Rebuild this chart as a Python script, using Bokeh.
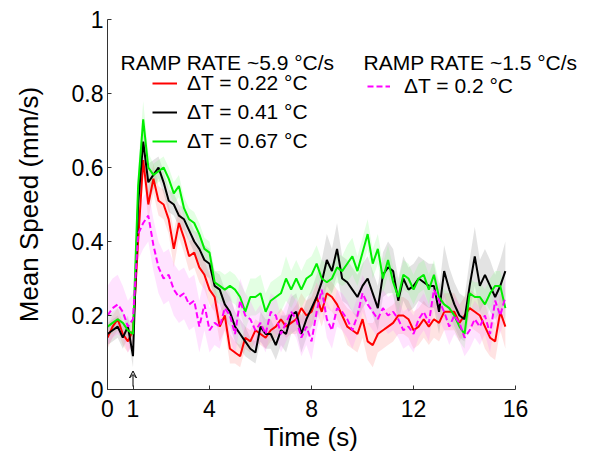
import numpy as np
from bokeh.plotting import figure
from bokeh.models import Legend, LegendItem, Label, Arrow, VeeHead, FixedTicker, Range1d, Title
from bokeh.embed import file_html
from bokeh.resources import INLINE

# ---------------- data ----------------
time_s = np.round(np.arange(79) * 0.2, 1)  # sampling grid, 0 .. 15.6 s
stim_onset = 1.0

x_ticks = [0, 1, 4, 8, 12, 16]
y_ticks = [0, 0.2, 0.4, 0.6, 0.8, 1.0]
y_tick_labels = {0: "0", 0.2: "0.2", 0.4: "0.4", 0.6: "0.6", 0.8: "0.8", 1.0: "1"}

speed_dt022 = [
    0.14, 0.17, 0.19, 0.15, 0.13, 0.16, 0.40, 0.62, 0.50, 0.57,
    0.51, 0.50, 0.46, 0.38, 0.45, 0.41, 0.36, 0.37, 0.33, 0.31,
    0.27, 0.25, 0.17, 0.20, 0.11, 0.10, 0.09, 0.14, 0.13, 0.16,
    0.15, 0.14, 0.16, 0.17, 0.19, 0.17, 0.18, 0.19, 0.22, 0.20,
    0.21, 0.25, 0.21, 0.26, 0.25, 0.23, 0.20, 0.17, 0.16, 0.15,
    0.19, 0.13, 0.12, 0.15, 0.16, 0.17, 0.18, 0.20, 0.20, 0.19,
    0.16, 0.17, 0.19, 0.17, 0.19, 0.18, 0.21, 0.21, 0.21, 0.18,
    0.20, 0.22, 0.21, 0.20, 0.17, 0.14, 0.13, 0.21, 0.17]
sem_dt022 = [
    0.03, 0.03, 0.03, 0.03, 0.03, 0.03, 0.04, 0.04, 0.04, 0.04,
    0.04, 0.04, 0.04, 0.05, 0.04, 0.04, 0.04, 0.04, 0.04, 0.04,
    0.04, 0.04, 0.04, 0.04, 0.04, 0.03, 0.03, 0.03, 0.03, 0.03,
    0.03, 0.03, 0.03, 0.03, 0.03, 0.03, 0.03, 0.04, 0.04, 0.04,
    0.04, 0.04, 0.04, 0.04, 0.04, 0.04, 0.04, 0.05, 0.05, 0.05,
    0.05, 0.05, 0.06, 0.05, 0.05, 0.05, 0.05, 0.05, 0.05, 0.05,
    0.05, 0.05, 0.05, 0.05, 0.05, 0.05, 0.05, 0.05, 0.05, 0.05,
    0.05, 0.05, 0.05, 0.05, 0.06, 0.05, 0.05, 0.05, 0.06]

speed_dt041 = [
    0.15, 0.16, 0.17, 0.14, 0.17, 0.09, 0.50, 0.67, 0.56, 0.58,
    0.60, 0.56, 0.51, 0.50, 0.47, 0.46, 0.43, 0.40, 0.38, 0.35,
    0.34, 0.28, 0.27, 0.23, 0.21, 0.17, 0.15, 0.13, 0.11, 0.10,
    0.17, 0.15, 0.15, 0.12, 0.16, 0.15, 0.20, 0.21, 0.15, 0.19,
    0.22, 0.25, 0.29, 0.35, 0.32, 0.38, 0.30, 0.29, 0.27, 0.25,
    0.28, 0.30, 0.26, 0.22, 0.31, 0.33, 0.32, 0.24, 0.30, 0.27,
    0.28, 0.30, 0.29, 0.28, 0.28, 0.21, 0.32, 0.27, 0.23, 0.20,
    0.19, 0.28, 0.36, 0.28, 0.31, 0.28, 0.25, 0.28, 0.32]
sem_dt041 = [
    0.03, 0.03, 0.03, 0.03, 0.03, 0.03, 0.05, 0.06, 0.05, 0.04,
    0.03, 0.03, 0.03, 0.03, 0.03, 0.03, 0.03, 0.03, 0.04, 0.04,
    0.04, 0.04, 0.04, 0.04, 0.04, 0.04, 0.04, 0.04, 0.03, 0.03,
    0.04, 0.04, 0.04, 0.04, 0.04, 0.05, 0.05, 0.05, 0.05, 0.05,
    0.05, 0.06, 0.06, 0.07, 0.06, 0.07, 0.06, 0.06, 0.06, 0.06,
    0.06, 0.06, 0.06, 0.06, 0.06, 0.07, 0.06, 0.06, 0.06, 0.06,
    0.06, 0.06, 0.06, 0.06, 0.06, 0.06, 0.07, 0.06, 0.06, 0.06,
    0.06, 0.07, 0.08, 0.07, 0.07, 0.07, 0.06, 0.07, 0.08]

speed_dt067 = [
    0.17, 0.18, 0.19, 0.18, 0.16, 0.15, 0.55, 0.73, 0.60, 0.58,
    0.59, 0.60, 0.57, 0.53, 0.55, 0.49, 0.46, 0.45, 0.42, 0.38,
    0.37, 0.29, 0.28, 0.27, 0.28, 0.27, 0.25, 0.21, 0.25, 0.25,
    0.26, 0.21, 0.24, 0.25, 0.26, 0.30, 0.27, 0.30, 0.27, 0.30,
    0.31, 0.34, 0.30, 0.29, 0.30, 0.33, 0.32, 0.34, 0.36, 0.32,
    0.37, 0.42, 0.34, 0.38, 0.30, 0.35, 0.29, 0.25, 0.31, 0.30,
    0.27, 0.30, 0.31, 0.27, 0.31, 0.25, 0.23, 0.22, 0.20, 0.17,
    0.15, 0.26, 0.25, 0.25, 0.23, 0.26, 0.28, 0.28, 0.22]
sem_dt067 = [
    0.03, 0.03, 0.03, 0.03, 0.03, 0.03, 0.05, 0.05, 0.04, 0.03,
    0.03, 0.03, 0.03, 0.03, 0.03, 0.03, 0.03, 0.03, 0.03, 0.03,
    0.03, 0.03, 0.04, 0.04, 0.04, 0.04, 0.04, 0.05, 0.05, 0.05,
    0.05, 0.05, 0.05, 0.05, 0.05, 0.06, 0.05, 0.05, 0.05, 0.05,
    0.05, 0.05, 0.05, 0.05, 0.04, 0.04, 0.04, 0.05, 0.05, 0.04,
    0.04, 0.04, 0.04, 0.04, 0.04, 0.04, 0.04, 0.04, 0.04, 0.04,
    0.04, 0.04, 0.04, 0.04, 0.04, 0.04, 0.04, 0.04, 0.04, 0.04,
    0.04, 0.04, 0.04, 0.04, 0.04, 0.04, 0.04, 0.04, 0.04]

speed_slow020 = [
    0.20, 0.22, 0.23, 0.21, 0.17, 0.19, 0.42, 0.45, 0.47, 0.39,
    0.33, 0.30, 0.31, 0.27, 0.25, 0.26, 0.23, 0.24, 0.17, 0.23,
    0.16, 0.18, 0.17, 0.22, 0.20, 0.15, 0.24, 0.20, 0.19, 0.16,
    0.18, 0.15, 0.21, 0.20, 0.15, 0.18, 0.21, 0.19, 0.14, 0.17,
    0.13, 0.21, 0.27, 0.19, 0.16, 0.22, 0.21, 0.19, 0.16, 0.20,
    0.26, 0.23, 0.21, 0.19, 0.22, 0.20, 0.21, 0.19, 0.16, 0.17,
    0.15, 0.19, 0.21, 0.18, 0.27, 0.24, 0.21, 0.17, 0.20, 0.18,
    0.14, 0.16, 0.19, 0.17, 0.20, 0.15, 0.24, 0.20, 0.25]
sem_slow020 = [
    0.08, 0.08, 0.08, 0.07, 0.07, 0.07, 0.07, 0.07, 0.07, 0.07,
    0.07, 0.07, 0.07, 0.07, 0.07, 0.07, 0.07, 0.07, 0.07, 0.07,
    0.06, 0.06, 0.06, 0.06, 0.06, 0.06, 0.06, 0.06, 0.05, 0.05,
    0.05, 0.05, 0.05, 0.05, 0.05, 0.05, 0.05, 0.05, 0.05, 0.05,
    0.05, 0.05, 0.05, 0.05, 0.05, 0.05, 0.05, 0.05, 0.05, 0.05,
    0.05, 0.05, 0.05, 0.05, 0.05, 0.05, 0.05, 0.05, 0.05, 0.05,
    0.05, 0.05, 0.05, 0.05, 0.05, 0.05, 0.05, 0.05, 0.05, 0.05,
    0.05, 0.05, 0.05, 0.05, 0.05, 0.05, 0.05, 0.05, 0.05]

series = [
    ("ΔT = 0.22 °C", speed_dt022, sem_dt022, "#ff0000", "#ff8080", "solid"),
    ("ΔT = 0.41 °C", speed_dt041, sem_dt041, "#000000", "#808080", "solid"),
    ("ΔT = 0.67 °C", speed_dt067, sem_dt067, "#00ee00", "#80ff80", "solid"),
    ("ΔT = 0.2 °C", speed_slow020, sem_slow020, "#ff00ff", "#ff80ff", "6 3"),
]

FONT = "Liberation Sans"

# ---------------- figure ----------------
# frame spans to the right edge so legend texts are not clipped; the x axis stops at 16
p = figure(width=600, height=460, output_backend="svg", toolbar_location=None,
           x_range=Range1d(0, 19.33), y_range=Range1d(0, 1),
           min_border_left=107, min_border_right=0, min_border_top=19, min_border_bottom=71)
p.outline_line_color = None
p.grid.visible = False
p.background_fill_color = "white"

for ax in (p.xaxis[0], p.yaxis[0]):
    ax.major_tick_in = 4
    ax.major_tick_out = 0
    ax.minor_tick_in = 0
    ax.minor_tick_out = 0
    ax.axis_line_color = "#333333"
    ax.major_tick_line_color = "#333333"
    ax.major_label_text_font = FONT
    ax.major_label_text_font_size = "23px"
    ax.major_label_text_color = "black"
    ax.axis_label_text_font = FONT
    ax.axis_label_text_font_size = "26px"
    ax.axis_label_text_font_style = "normal"
    ax.axis_label_text_color = "black"

p.xaxis.bounds = (0, 16)
p.xaxis.ticker = FixedTicker(ticks=x_ticks)
p.yaxis.ticker = FixedTicker(ticks=y_ticks)
p.yaxis.major_label_overrides = y_tick_labels
p.yaxis.axis_label = "Mean Speed (mm/s)"
p.xaxis.major_label_standoff = 10
p.yaxis.major_label_standoff = 4
p.yaxis.axis_label_standoff = 25

# x-axis title, centred under the 0..16 axis (the frame itself is wider)
p.add_layout(Title(text="Time (s)", align="left", offset=156, standoff=0,
                   text_font=FONT, text_font_size="26px", text_font_style="normal",
                   text_color="black"), "below")

t = np.asarray(time_s)
renderers = []
for name, y, s, col, band, dash in series:
    y = np.asarray(y)
    s = np.asarray(s)
    p.varea(x=t, y1=y - s, y2=y + s, fill_color=band, fill_alpha=0.22)

for name, y, s, col, band, dash in series:
    r = p.line(t, y, line_color=col, line_width=2, line_dash=dash)
    renderers.append(r)

# stimulus arrow
p.add_layout(Arrow(x_start=stim_onset, y_start=0.008, x_end=stim_onset, y_end=0.05,
                   line_color="black", line_width=1,
                   end=VeeHead(size=7, line_color="black", line_width=1, fill_alpha=0)))

# legends
common = dict(padding=0, margin=0, spacing=1, glyph_height=28, label_height=28,
              label_text_font=FONT, label_text_font_size="21px", label_text_color="black",
              background_fill_alpha=0, border_line_color=None)
leg1 = Legend(items=[LegendItem(label=series[i][0], renderers=[renderers[i]]) for i in range(3)],
              location=(45, 234), glyph_width=25, label_standoff=10, **common)
leg2 = Legend(items=[LegendItem(label=series[3][0], renderers=[renderers[3]])],
              location=(260, 289), glyph_width=23, label_standoff=14, **common)
p.add_layout(leg1)
p.add_layout(leg2)

p.add_layout(Label(x=13, y=327, x_units="screen", y_units="screen",
                   text="RAMP RATE ~5.9 °C/s", text_font=FONT, text_font_size="21px",
                   text_color="black", text_baseline="alphabetic"))
p.add_layout(Label(x=256, y=327, x_units="screen", y_units="screen",
                   text="RAMP RATE ~1.5 °C/s", text_font=FONT, text_font_size="21px",
                   text_color="black", text_baseline="alphabetic"))

open("out.html", "w").write(file_html(p, INLINE))
